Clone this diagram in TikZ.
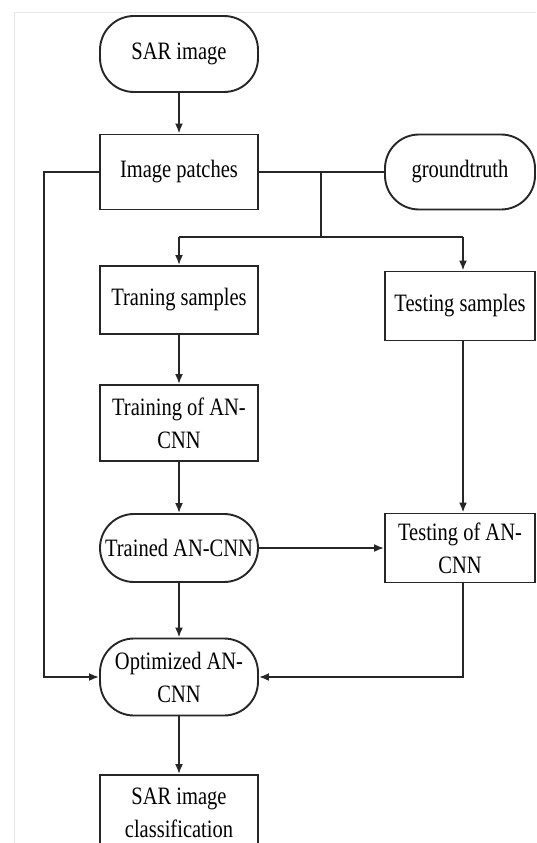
\documentclass[tikz,border=0pt]{standalone}
\usepackage{fontspec}
\usepackage{graphicx}
\setmainfont{Liberation Serif}
\usetikzlibrary{arrows.meta}
\newcommand{\tx}[1]{\scalebox{1}[1.22]{#1}}
\begin{document}
\begin{tikzpicture}[x=1pt,y=-1pt,
  every node/.style={font=\fontsize{20.5}{33}\selectfont, align=center, inner sep=0pt, line width=1.9pt, draw=black!85},
  boxnode/.style={rectangle, minimum width=158pt},
  stadium/.style={rectangle, rounded corners=34pt, minimum width=158pt},
  conn/.style={line width=1.9pt, draw=black!85},
  arr/.style={conn, -{Latex[length=10pt,width=8pt]}}]
\useasboundingbox (0,0) rectangle (536,843);
% faint frame
\draw[black!10, line width=0.8pt] (14,843) -- (14,12) -- (536,12);
% nodes
\node[stadium, minimum height=76pt] (sar) at (179,54) {\tx{SAR image}};
\node[boxnode, minimum height=75pt] (patch) at (179,172) {\tx{Image patches}};
\node[stadium, minimum width=150pt, minimum height=75pt] (gt) at (460,172) {\tx{groundtruth}};
\node[boxnode, minimum height=68pt] (train) at (179,300) {\tx{Traning samples}};
\node[boxnode, minimum width=150pt, minimum height=69pt] (test) at (460,306) {\tx{Testing samples}};
\node[boxnode, minimum height=76pt] (trainof) at (179,423) {\tx{Training of AN-}\\\tx{CNN}};
\node[stadium, minimum height=68pt] (trained) at (179,548) {\tx{Trained AN-CNN}};
\node[boxnode, minimum width=150pt, minimum height=69pt] (testof) at (460,548) {\tx{Testing of AN-}\\\tx{CNN}};
\node[stadium, minimum height=77pt] (opt) at (179,677) {\tx{Optimized AN-}\\\tx{CNN}};
\node[boxnode, minimum height=76pt] (cls) at (179,813) {\tx{SAR image}\\\tx{classification}};
% coordinates
\coordinate (j1) at (321,172);
\coordinate (j2) at (321,237);
\coordinate (l1) at (179,237);
\coordinate (r1) at (463,237);
\coordinate (lb) at (44,172);
\coordinate (lo) at (44,677);
\coordinate (rb) at (463,677);
% connectors
\draw[arr] (sar) -- (patch);
\draw[conn] (patch.east) -- (gt.west);
\draw[conn] (j1) -- (j2);
\draw[conn] (l1) -- (r1);
\draw[arr] (l1) -- (train.north);
\draw[arr] (r1) -- (r1 |- test.north);
\draw[arr] (train) -- (trainof);
\draw[arr] (trainof) -- (trained);
\draw[arr] (trained) -- (testof);
\draw[arr] (test.south -| r1) -- (testof.north -| r1);
\draw[arr] (trained) -- (opt);
\draw[arr] (patch.west) -- (lb) -- (lo) -- (opt.west);
\draw[arr] (testof.south -| rb) -- (rb) -- (opt.east);
\draw[arr] (opt) -- (cls);
\end{tikzpicture}
\end{document}
